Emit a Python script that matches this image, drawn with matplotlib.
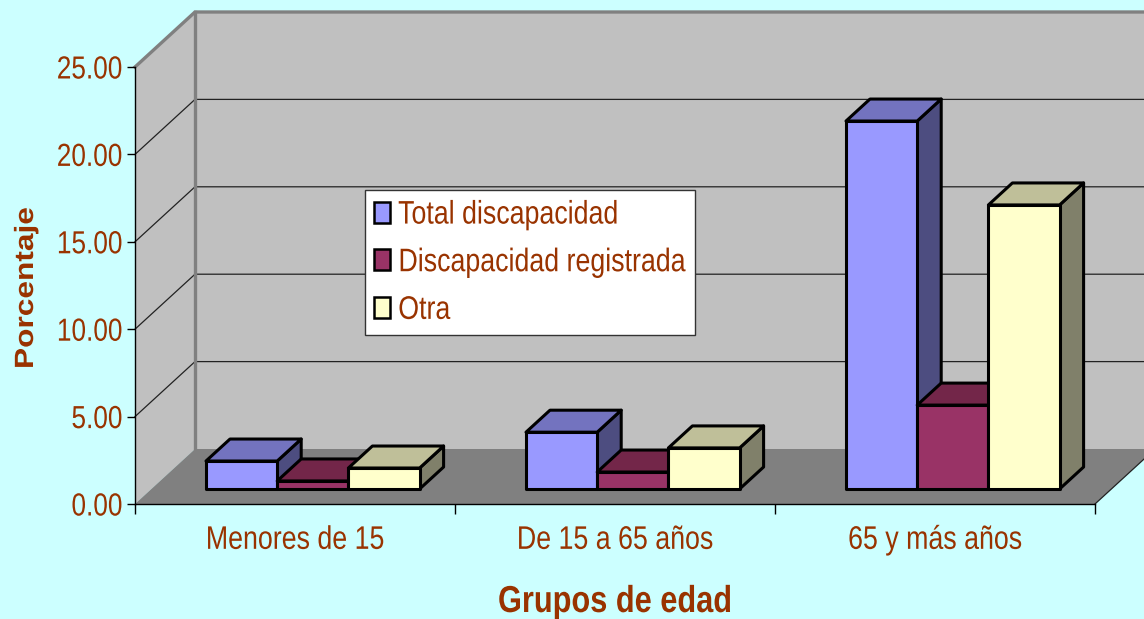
import matplotlib
matplotlib.use('Agg')
import matplotlib.pyplot as plt
from matplotlib.patches import Polygon, Rectangle
from matplotlib.patheffects import AbstractPathEffect
from matplotlib.transforms import Affine2D

# Data
grupos = ['Menores de 15', 'De 15 a 65 años', '65 y más años']
total = [1.6, 3.25, 21.05]
registrada = [0.46, 0.97, 4.8]
otra = [1.2, 2.35, 16.25]
y_ticks = [0, 5, 10, 15, 20, 25]
series_names = ['Total discapacidad', 'Discapacidad registrada', 'Otra']

plt.rcParams['font.family'] = ['Liberation Sans', 'DejaVu Sans']
text_color = '#993300'
bg_color = '#CCFFFF'


# The original font is a narrow one, none is installed, so squeeze the normal one
class Squeeze(AbstractPathEffect):
    def __init__(self, sx=0.82, sy=1.0, anchor='center'):
        super().__init__()
        self.sx, self.sy, self.anchor = sx, sy, anchor

    def draw_path(self, renderer, gc, tpath, affine, rgbFace=None):
        box = affine.transform_path(tpath).get_extents()
        px = {'left': box.x0, 'right': box.x1, 'center': (box.x0 + box.x1) / 2}[self.anchor]
        py = (box.y0 + box.y1) / 2 if self.sy != 1.0 else 0
        new = affine + Affine2D().translate(-px, -py).scale(self.sx, self.sy).translate(px, py)
        renderer.draw_path(gc, tpath, new, rgbFace)


W, H = 1144, 619
fig = plt.figure(figsize=(W / 100, H / 100), dpi=100, facecolor=bg_color)
# axes = the front edge of the 3d box
ax = fig.add_axes([135 / W, 1 - 504 / H, 960 / W, 437 / H])
ax.set_xlim(0, 3)
ax.set_ylim(0, 25)
ax.patch.set_visible(False)

# depth of the box in data units
depth_x = 60 / 320
depth_y = 55 / 17.48


def proj(x, y, f):
    # f = 0 front of the box, f = 1 back wall
    return (x + depth_x * f, y + depth_y * f)


def poly(pts, color, lw=0, ec='none', z=1):
    ax.add_patch(Polygon(pts, closed=True, facecolor=color, edgecolor=ec, linewidth=lw,
                         joinstyle='round', clip_on=False, zorder=z))


# walls and floor
poly([proj(0, 0, 1), proj(3.2, 0, 1), proj(3.2, 25, 1), proj(0, 25, 1)], '#C0C0C0', z=1)
poly([proj(0, 0, 0), proj(0, 0, 1), proj(0, 25, 1), proj(0, 25, 0)], '#C0C0C0', z=1)
poly([proj(0, 0, 0), proj(3, 0, 0), proj(3, 0, 1), proj(0, 0, 1)], '#808080', z=1.5)

# gridlines
for v in y_ticks[1:-1]:
    xs, ys = zip(proj(0, v, 0), proj(0, v, 1), proj(3.2, v, 1))
    ax.plot(xs, ys, color='#222222', lw=0.9, clip_on=False, zorder=1.2)

# grey frame of the back wall
xs, ys = zip(proj(0, 25, 0), proj(0, 25, 1), proj(3.2, 25, 1))
ax.plot(xs, ys, color='#808080', lw=2.4, clip_on=False, zorder=1.3, solid_joinstyle='miter')
xs, ys = zip(proj(0, 0, 1), proj(0, 25, 1))
ax.plot(xs, ys, color='#808080', lw=2.4, clip_on=False, zorder=1.3)
xs, ys = zip(proj(3, 0, 0), proj(3, 0, 1))
ax.plot(xs, ys, color='#222222', lw=0.9, clip_on=False, zorder=1.6)

# bars
bar_w = 71.2 / 320
f0, f1 = 15 / 55, 37 / 55
first = (206 - 135) / 320 - depth_x * f0
colors = [('#9999FF', '#7373BF', '#4D4D80'),
          ('#993366', '#732649', '#4C1933'),
          ('#FFFFCC', '#BFBF99', '#80806A')]
series = [total, registrada, otra]
edge = dict(lw=2.2, ec='black')
z = 3
for g in range(len(grupos)):
    for s, vals in enumerate(series):
        x0 = g + first + s * bar_w
        x1 = x0 + bar_w
        v = vals[g]
        front, top, side = colors[s]
        poly([proj(x1, 0, f0), proj(x1, 0, f1), proj(x1, v, f1), proj(x1, v, f0)], side, z=z, **edge)
        poly([proj(x0, v, f0), proj(x1, v, f0), proj(x1, v, f1), proj(x0, v, f1)], top, z=z, **edge)
        poly([proj(x0, 0, f0), proj(x1, 0, f0), proj(x1, v, f0), proj(x0, v, f0)], front, z=z, **edge)
        z += 0.1

# axes
for name in ['top', 'right']:
    ax.spines[name].set_visible(False)
for name in ['left', 'bottom']:
    ax.spines[name].set_linewidth(1.0)
    ax.spines[name].set_zorder(2)
ax.set_yticks(y_ticks)
ax.set_yticklabels(['%.2f' % v for v in y_ticks], color=text_color, fontsize=23)
ax.tick_params(axis='y', length=6, width=1, pad=3)
for t in ax.get_yticklabels():
    t.set_path_effects([Squeeze(anchor='right')])
ax.set_xticks([0, 1, 2, 3])
ax.set_xticklabels([])
ax.tick_params(axis='x', which='major', length=7, width=1)
ax.set_xticks([0.5, 1.5, 2.5], minor=True)
ax.set_xticklabels(grupos, minor=True, color=text_color, fontsize=23.5)
ax.tick_params(axis='x', which='minor', length=0, pad=15)
for t in ax.get_xticklabels(minor=True):
    t.set_path_effects([Squeeze()])

fig.text(615 / W, 1 - 602 / H, 'Grupos de edad', color=text_color, fontsize=27,
         fontweight='bold', ha='center', va='center', path_effects=[Squeeze()])
fig.text(26 / W, 1 - 288 / H, 'Porcentaje', color=text_color, fontsize=19,
         fontweight='bold', rotation=90, ha='center', va='center',
         path_effects=[Squeeze(sx=1.0, sy=1.2)])

# legend
handles = [Rectangle((0, 0), 1, 1, facecolor=c[0], edgecolor='black', linewidth=1.8) for c in colors]
leg = fig.legend(handles, series_names, loc='lower left',
                 bbox_to_anchor=(365 / W, 1 - 335 / H, 330 / W, 144 / H), mode='expand',
                 fontsize=23.5, labelcolor=text_color, frameon=True, fancybox=False,
                 framealpha=1, facecolor='white', edgecolor='#333333',
                 borderaxespad=0, handlelength=0.5, handleheight=0.62, handletextpad=0.23,
                 labelspacing=0.51, borderpad=0.28)
leg.get_frame().set_linewidth(1.0)
for t in leg.get_texts():
    t.set_path_effects([Squeeze(anchor='left')])

fig.savefig('out.png', dpi=100, facecolor=bg_color)
